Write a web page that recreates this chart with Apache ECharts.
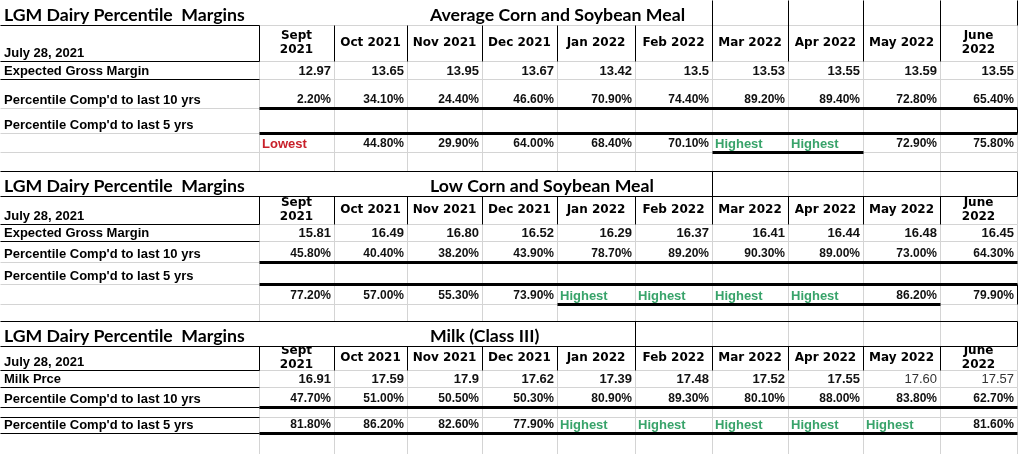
<!DOCTYPE html>
<html>
<head>
<meta charset="utf-8">
<title>LGM Dairy Percentile Margins</title>
<script src="https://cdn.jsdelivr.net/npm/echarts@6/dist/echarts.min.js"></script>
<style>
  html, body { margin: 0; padding: 0; background: #fff; }
  #table { width: 1018px; height: 454px; }
</style>
</head>
<body>
<div id="table"></div>
<script>
// values as they appear in the sheet
var reportDate = 'July 28, 2021';
var months = ['Sept\n2021', 'Oct 2021', 'Nov 2021', 'Dec 2021', 'Jan 2022', 'Feb 2022',
  'Mar 2022', 'Apr 2022', 'May 2022', 'June\n2022'];

var avgMargin = ['12.97', '13.65', '13.95', '13.67', '13.42', '13.5', '13.53', '13.55', '13.59', '13.55'];
var avgPct10 = ['2.20%', '34.10%', '24.40%', '46.60%', '70.90%', '74.40%', '89.20%', '89.40%', '72.80%', '65.40%'];
var avgPct5 = ['Lowest', '44.80%', '29.90%', '64.00%', '68.40%', '70.10%', 'Highest', 'Highest', '72.90%', '75.80%'];

var lowMargin = ['15.81', '16.49', '16.80', '16.52', '16.29', '16.37', '16.41', '16.44', '16.48', '16.45'];
var lowPct10 = ['45.80%', '40.40%', '38.20%', '43.90%', '78.70%', '89.20%', '90.30%', '89.00%', '73.00%', '64.30%'];
var lowPct5 = ['77.20%', '57.00%', '55.30%', '73.90%', 'Highest', 'Highest', 'Highest', 'Highest', '86.20%', '79.90%'];

var milkPrice = ['16.91', '17.59', '17.9', '17.62', '17.39', '17.48', '17.52', '17.55', '17.60', '17.57'];
var milkPct10 = ['47.70%', '51.00%', '50.50%', '50.30%', '80.90%', '89.30%', '80.10%', '88.00%', '83.80%', '62.70%'];
var milkPct5 = ['81.80%', '86.20%', '82.60%', '77.90%', 'Highest', 'Highest', 'Highest', 'Highest', 'Highest', '81.60%'];

// sheet layout (column / row edges on the sheet axis)
var colEdges = [0, 259, 334, 407, 482, 557, 635, 712, 788, 863, 940, 1017];
var rowEdges = [0, 25, 61, 79, 108, 133, 152, 171, 196, 224, 241, 262, 284, 304, 321,
  346, 370, 387, 407, 417, 433, 454];

var fonts = {
  title: 'bold 17.7px Lato',
  label: 'bold 13px "Liberation Sans"',
  head: 'bold 12px "DejaVu Sans"',
  num: 'bold 13px "Liberation Sans"',
  light: '13px "Liberation Sans"',
  pct: 'bold 12px "Liberation Sans"',
  flag: 'bold 13px "Liberation Sans"'
};

var cells = [];
function cell(c, r, text, kind, extra) {
  cells.push(Object.assign({ c: c, r: r, text: text, kind: kind }, extra || {}));
}
function flagKind(t) {
  return t === 'Highest' ? 'high' : t === 'Lowest' ? 'low' : 'pct';
}

function section(base, title, firstLabel, margin, pct10, pct5, p5LabelRow, clipHead) {
  cell(0, base, 'LGM Dairy Percentile  Margins', 'title');
  cell(0, base, title, 'title', { x: 430 });
  cell(0, base + 1, reportDate, 'label');
  months.forEach(function (m, i) { cell(i + 1, base + 1, m, 'head', { clip: clipHead }); });
  cell(0, base + 2, firstLabel, 'label');
  margin.forEach(function (v, i) {
    cell(i + 1, base + 2, v, (clipHead && i >= 8) ? 'light' : 'num');
  });
  cell(0, base + 3, "Percentile Comp'd to last 10 yrs", 'label');
  pct10.forEach(function (v, i) { cell(i + 1, base + 3, v, 'pct'); });
  cell(0, p5LabelRow, "Percentile Comp'd to last 5 yrs", 'label');
  pct5.forEach(function (v, i) { cell(i + 1, base + 5, v, flagKind(v)); });
}
section(0, 'Average Corn and Soybean Meal', 'Expected Gross Margin', avgMargin, avgPct10, avgPct5, 4, false);
section(7, 'Low Corn and Soybean Meal', 'Expected Gross Margin', lowMargin, lowPct10, lowPct5, 11, false);
section(14, 'Milk (Class III)', 'Milk Prce', milkPrice, milkPct10, milkPct5, 19, true);

// borders: h = horizontal at row edge r from col edge a to b; v = vertical at col edge c, row edges a..b
var borders = [];
function h(r, a, b, w, color) { borders.push({ t: 'h', k: r, a: a, b: b, w: w || 1, color: color || '#000' }); }
function v(c, a, b, w, color) { borders.push({ t: 'v', k: c, a: a, b: b, w: w || 1, color: color || '#000' }); }

// light sheet grid
var grid = '#d4d4d4';
var hiddenInTitle = { 0: [1, 6], 7: [1, 6], 14: [1, 5] };
rowEdges.forEach(function (y, r) { if (r > 0) h(r, 0, 11, 1, grid); });
for (var c = 1; c < colEdges.length; c++) {
  for (var r = 0; r < rowEdges.length - 1; r++) {
    var hid = hiddenInTitle[r];
    if (hid && c >= hid[0] && c <= hid[1]) continue;
    v(c, r, r + 1, 1, grid);
  }
}

// section 1
[7, 8, 9, 10].forEach(function (c) { v(c, 0, 2); });
v(11, 0, 1);
[1, 2, 3, 4, 5, 6].forEach(function (c) { v(c, 1, 2); });
h(1, 0, 1); h(2, 0, 1); h(3, 0, 1);
h(4, 1, 11, 3); h(5, 1, 11, 3);
v(11, 4, 5);
h(6, 7, 9, 3);
// section 2
h(7, 0, 11); h(8, 0, 11);
v(7, 7, 8); v(11, 7, 8);
[1, 2, 3, 4, 5, 6, 7, 8, 9, 10].forEach(function (c) { v(c, 8, 9); });
h(9, 0, 1); h(10, 0, 1);
h(11, 1, 11, 3); h(12, 1, 11, 3);
v(11, 12, 13);
h(13, 5, 10, 3);
// section 3
h(14, 0, 11); h(15, 0, 11);
v(6, 14, 15); v(11, 14, 15);
[1, 2, 3, 4, 5, 6, 7, 8, 9, 10].forEach(function (c) { v(c, 15, 16); });
h(16, 0, 1); h(17, 0, 1);
h(18, 1, 11, 3); h(18, 0, 1);
h(19, 0, 1);
h(20, 1, 11, 3); h(20, 0, 1);

var chart = echarts.init(document.getElementById('table'), null, { renderer: 'canvas' });

function renderBorder(params, api) {
  var b = borders[params.dataIndex];
  var p1, p2;
  if (b.t === 'h') {
    p1 = api.coord([colEdges[b.a], rowEdges[b.k]]);
    p2 = api.coord([colEdges[b.b], rowEdges[b.k]]);
  } else {
    p1 = api.coord([colEdges[b.k], rowEdges[b.a]]);
    p2 = api.coord([colEdges[b.k], rowEdges[b.b]]);
  }
  var off = b.w % 2 ? 0.5 : 0;
  return {
    type: 'line',
    shape: { x1: Math.round(p1[0]) + off, y1: Math.round(p1[1]) + off, x2: Math.round(p2[0]) + off, y2: Math.round(p2[1]) + off },
    style: { stroke: b.color, lineWidth: b.w },
    silent: true
  };
}

function renderCell(params, api) {
  var d = cells[params.dataIndex];
  var tl = api.coord([colEdges[d.c], rowEdges[d.r]]);
  var br = api.coord([colEdges[d.c + 1], rowEdges[d.r + 1]]);
  var style = { text: d.text, font: fonts[d.kind] || fonts.num, fill: '#111' };
  var x, y;
  if (d.kind === 'title') {
    x = d.x != null ? api.coord([d.x, 0])[0] : tl[0] + 4;
    y = br[1] - 10;
    style.align = 'left';
    style.verticalAlign = 'middle';
    style.fill = '#000';
  } else if (d.kind === 'head') {
    x = (tl[0] + br[0]) / 2;
    y = (tl[1] + br[1]) / 2;
    style.align = 'center';
    style.verticalAlign = 'middle';
    style.lineHeight = 14;
    style.fill = '#000';
  } else if (d.kind === 'label') {
    x = tl[0] + 4;
    y = br[1] - 8;
    style.align = 'left';
    style.verticalAlign = 'middle';
    style.fill = '#000';
  } else if (d.kind === 'high' || d.kind === 'low') {
    x = tl[0] + 3;
    y = br[1] - 8;
    style.align = 'left';
    style.verticalAlign = 'middle';
    style.fill = d.kind === 'high' ? '#38a36a' : '#c8202a';
  } else {
    x = br[0] - 3;
    y = br[1] - 8;
    style.align = 'right';
    style.verticalAlign = 'middle';
    if (d.kind === 'light') style.fill = '#333';
  }
  var el = { type: 'text', x: x, y: y, style: style, silent: true };
  if (d.clip) {
    return {
      type: 'group',
      children: [el],
      clipPath: { type: 'rect', shape: { x: tl[0], y: tl[1], width: br[0] - tl[0], height: br[1] - tl[1] } }
    };
  }
  return el;
}

chart.setOption({
  animation: false,
  backgroundColor: '#fff',
  grid: { left: 0, right: 0, top: 0, bottom: 0 },
  xAxis: { type: 'value', min: 0, max: 1018, show: false },
  yAxis: { type: 'value', min: 0, max: 454, inverse: true, show: false },
  series: [
    {
      name: 'borders',
      type: 'custom',
      renderItem: renderBorder,
      clip: false,
      data: borders.map(function (b) { return [b.t === 'h' ? colEdges[b.a] : colEdges[b.k], rowEdges[b.k]]; })
    },
    {
      name: 'cells',
      type: 'custom',
      renderItem: renderCell,
      clip: false,
      z: 3,
      data: cells.map(function (d) { return [colEdges[d.c], rowEdges[d.r]]; })
    }
  ]
});
</script>
</body>
</html>
